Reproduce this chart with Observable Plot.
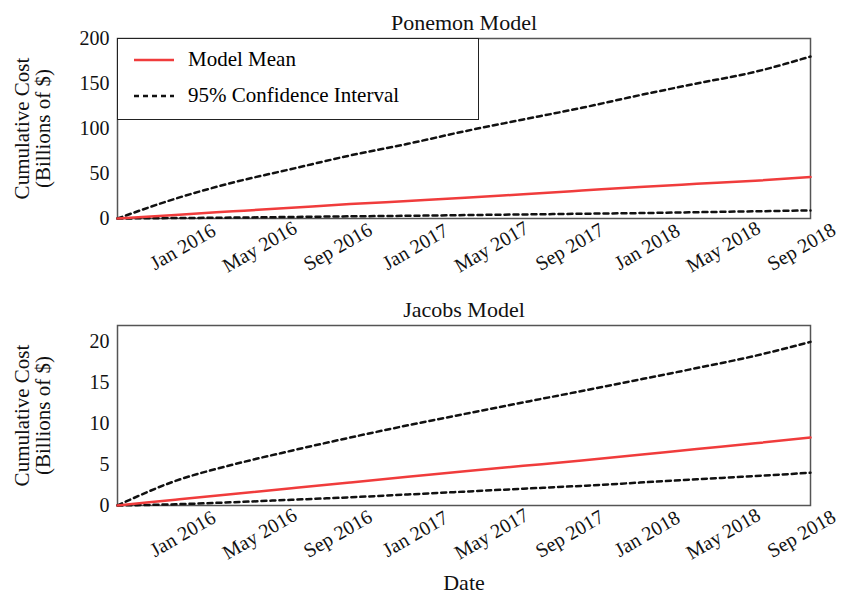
<!DOCTYPE html>
<html><head><meta charset="utf-8">
<script src="https://cdn.jsdelivr.net/npm/d3@7"></script>
<script src="https://cdn.jsdelivr.net/npm/@observablehq/plot@0.6"></script>
<style>
body{margin:0;background:#fff;font-family:"Liberation Serif",serif}
#wrap{position:relative;width:844px}
#legend{position:absolute;left:117px;top:38px;width:362px;height:82px;border:1.5px solid #222;background:#fff;box-sizing:border-box;font-size:21px}
.item{position:absolute;left:16px;display:flex;align-items:center}
.item svg{margin-right:14px}
</style></head><body>
<div id="wrap"><div id="legend">
<div class="item" style="top:8px"><svg width="40" height="6"><line x1="0" x2="40" y1="3" y2="3" stroke="#f03c3c" stroke-width="2.5"/></svg>Model Mean</div>
<div class="item" style="top:44px"><svg width="40" height="6"><line x1="0" x2="40" y1="3" y2="3" stroke="#111" stroke-width="2.5" stroke-dasharray="5,4"/></svg>95% Confidence Interval</div>
</div></div>
<script>
var dates = ["2015-09-15","2015-12-15","2016-03-15","2016-06-15","2016-09-15","2016-12-15","2017-03-15","2017-06-15","2017-09-15","2017-12-15","2018-03-15","2018-06-15","2018-09-10"].map(d => new Date(d))
var ponemonMean  = [0,4,8,12,16,19.5,23,27,31,35,38.5,42,46]
var ponemonUpper = [0,22,40,55,70,83,97,110,123,137,150,163,180]
var ponemonLower = [0,0.5,1,1.7,2.4,3,3.8,4.5,5.3,6,7,8,9]
var jacobsMean  = [0,0.7,1.4,2.1,2.8,3.5,4.2,4.85,5.5,6.2,6.9,7.6,8.3]
var jacobsUpper = [0,3,5,6.7,8.3,9.8,11.2,12.6,14,15.4,16.8,18.3,20]
var jacobsLower = [0,0.15,0.4,0.7,1.0,1.35,1.7,2.05,2.4,2.8,3.2,3.6,4.0]
var tickDates = ["2016-01-01","2016-05-01","2016-09-01","2017-01-01","2017-05-01","2017-09-01","2018-01-01","2018-05-01","2018-09-01"].map(d => new Date(d))
var tickLabels = ["Jan 2016","May 2016","Sep 2016","Jan 2017","May 2017","Sep 2017","Jan 2018","May 2018","Sep 2018"]

function makePanel(p) {
    let rows = dates.map((d, i) => ({date: d, mean: p.mean[i], upper: p.upper[i], lower: p.lower[i]}))
    return Plot.plot({
        width: 844, height: p.height,
        marginTop: p.top, marginBottom: p.height - p.top - 180, marginLeft: 117, marginRight: 34,
        style: {fontFamily: "Liberation Serif", fontSize: "20px", color: "#111", overflow: "visible"},
        x: {type: "time", domain: [new Date("2015-09-15"), new Date("2018-09-10")], axis: null},
        y: {domain: p.domain, ticks: p.ticks, label: null, tickSize: 0, tickPadding: 8},
        marks: [
            Plot.frame({stroke: "#555", strokeWidth: 1.5}),
            Plot.lineY(rows, {x: "date", y: "upper", stroke: "#111", strokeWidth: 2.5, strokeDasharray: "5,4", curve: "monotone-x"}),
            Plot.lineY(rows, {x: "date", y: "lower", stroke: "#111", strokeWidth: 2.5, strokeDasharray: "5,4", curve: "monotone-x"}),
            Plot.lineY(rows, {x: "date", y: "mean", stroke: "#f03c3c", strokeWidth: 2.5, curve: "monotone-x"}),
            Plot.text(tickLabels, {x: (d, i) => tickDates[i], frameAnchor: "bottom", dy: 34, rotate: -30, fontSize: 20}),
            Plot.text([p.title], {frameAnchor: "top", dy: -24, fontSize: 22}),
            Plot.text(["Cumulative Cost"], {frameAnchor: "left", textAnchor: "middle", rotate: -90, dx: -95, fontSize: 21}),
            Plot.text(["(Billions of $)"], {frameAnchor: "left", textAnchor: "middle", rotate: -90, dx: -74, fontSize: 21}),
            ...(p.xlabel ? [Plot.text([p.xlabel], {frameAnchor: "bottom", dy: 84, fontSize: 22})] : [])
        ]
    })
}

let wrap = document.getElementById("wrap")
wrap.append(makePanel({title: "Ponemon Model", mean: ponemonMean, upper: ponemonUpper, lower: ponemonLower,
    domain: [0, 200], ticks: [0, 50, 100, 150, 200], height: 285, top: 38}))
wrap.append(makePanel({title: "Jacobs Model", mean: jacobsMean, upper: jacobsUpper, lower: jacobsLower,
    domain: [0, 22], ticks: [0, 5, 10, 15, 20], height: 315, top: 40, xlabel: "Date"}))
</script></body></html>
